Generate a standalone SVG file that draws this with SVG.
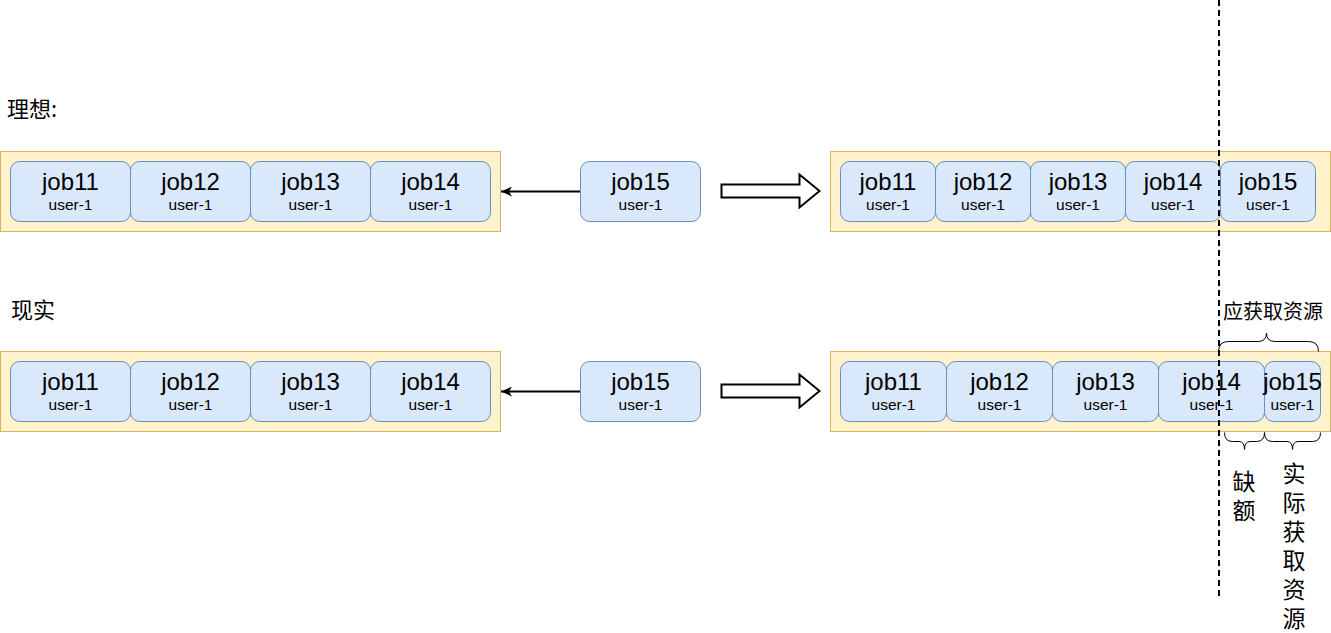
<svg xmlns="http://www.w3.org/2000/svg" width="1331" height="633" viewBox="0 0 1331 633">
<defs>
<style>
.cont{fill:#fff2cc;stroke:#d6b656;stroke-width:1}
.job{fill:#dae8fc;stroke:#6c8ebf;stroke-width:1}
.t1{font-family:"Liberation Sans",Arial,sans-serif;font-size:24px;fill:#000;text-anchor:middle}
.t2{font-family:"Liberation Sans",Arial,sans-serif;font-size:15.5px;fill:#000;text-anchor:middle}
.cjk{font-family:"Noto Sans CJK SC","Liberation Sans",sans-serif;fill:#000}
.line{fill:none;stroke:#000;stroke-width:2}
.brace{fill:none;stroke:#000;stroke-width:1}
</style>
<marker id="ah" markerWidth="12" markerHeight="10" refX="11" refY="5" orient="auto" markerUnits="userSpaceOnUse">
<path d="M0,0 L11,5 L0,10 L3,5 Z" fill="#000"/>
</marker>
</defs>
<rect width="1331" height="633" fill="#fff"/>

<g id="title-ideal"><text class="cjk" x="7" y="117" font-size="22">理想:</text></g>
<g id="title-real"><text class="cjk" x="11" y="318" font-size="22">现实</text></g>

<!-- Top left -->
<g id="c-top-left"><rect class="cont" x="0.5" y="151.5" width="500" height="80"/></g>
<g id="tl-job11"><rect class="job" x="10.5" y="161.5" width="120" height="60" rx="9"/><text class="t1" x="70.5" y="190">job11</text><text class="t2" x="70.5" y="210">user-1</text></g>
<g id="tl-job12"><rect class="job" x="130.5" y="161.5" width="120" height="60" rx="9"/><text class="t1" x="190.5" y="190">job12</text><text class="t2" x="190.5" y="210">user-1</text></g>
<g id="tl-job13"><rect class="job" x="250.5" y="161.5" width="120" height="60" rx="9"/><text class="t1" x="310.5" y="190">job13</text><text class="t2" x="310.5" y="210">user-1</text></g>
<g id="tl-job14"><rect class="job" x="370.5" y="161.5" width="120" height="60" rx="9"/><text class="t1" x="430.5" y="190">job14</text><text class="t2" x="430.5" y="210">user-1</text></g>
<g id="tm-job15"><rect class="job" x="580.5" y="161.5" width="120" height="60" rx="9"/><text class="t1" x="640.5" y="190">job15</text><text class="t2" x="640.5" y="210">user-1</text></g>

<!-- Top right -->
<g id="c-top-right"><rect class="cont" x="830.5" y="151.5" width="500" height="80"/></g>
<g id="tr-job11"><rect class="job" x="840.5" y="161.5" width="95" height="60" rx="9"/><text class="t1" x="888" y="190">job11</text><text class="t2" x="888" y="210">user-1</text></g>
<g id="tr-job12"><rect class="job" x="935.5" y="161.5" width="95" height="60" rx="9"/><text class="t1" x="983" y="190">job12</text><text class="t2" x="983" y="210">user-1</text></g>
<g id="tr-job13"><rect class="job" x="1030.5" y="161.5" width="95" height="60" rx="9"/><text class="t1" x="1078" y="190">job13</text><text class="t2" x="1078" y="210">user-1</text></g>
<g id="tr-job14"><rect class="job" x="1125.5" y="161.5" width="95" height="60" rx="9"/><text class="t1" x="1173" y="190">job14</text><text class="t2" x="1173" y="210">user-1</text></g>
<g id="tr-job15"><rect class="job" x="1220.5" y="161.5" width="95" height="60" rx="9"/><text class="t1" x="1268" y="190">job15</text><text class="t2" x="1268" y="210">user-1</text></g>

<!-- Bottom left -->
<g id="c-bot-left"><rect class="cont" x="0.5" y="351.5" width="500" height="80"/></g>
<g id="bl-job11"><rect class="job" x="10.5" y="361.5" width="120" height="60" rx="9"/><text class="t1" x="70.5" y="390">job11</text><text class="t2" x="70.5" y="410">user-1</text></g>
<g id="bl-job12"><rect class="job" x="130.5" y="361.5" width="120" height="60" rx="9"/><text class="t1" x="190.5" y="390">job12</text><text class="t2" x="190.5" y="410">user-1</text></g>
<g id="bl-job13"><rect class="job" x="250.5" y="361.5" width="120" height="60" rx="9"/><text class="t1" x="310.5" y="390">job13</text><text class="t2" x="310.5" y="410">user-1</text></g>
<g id="bl-job14"><rect class="job" x="370.5" y="361.5" width="120" height="60" rx="9"/><text class="t1" x="430.5" y="390">job14</text><text class="t2" x="430.5" y="410">user-1</text></g>
<g id="bm-job15"><rect class="job" x="580.5" y="361.5" width="120" height="60" rx="9"/><text class="t1" x="640.5" y="390">job15</text><text class="t2" x="640.5" y="410">user-1</text></g>

<!-- Bottom right -->
<g id="c-bot-right"><rect class="cont" x="830.5" y="351.5" width="500" height="80"/></g>
<g id="br-job11"><rect class="job" x="840.5" y="361.5" width="106" height="60" rx="9"/><text class="t1" x="893.5" y="390">job11</text><text class="t2" x="893.5" y="410">user-1</text></g>
<g id="br-job12"><rect class="job" x="946.5" y="361.5" width="106" height="60" rx="9"/><text class="t1" x="999.5" y="390">job12</text><text class="t2" x="999.5" y="410">user-1</text></g>
<g id="br-job13"><rect class="job" x="1052.5" y="361.5" width="106" height="60" rx="9"/><text class="t1" x="1105.5" y="390">job13</text><text class="t2" x="1105.5" y="410">user-1</text></g>
<g id="br-job14"><rect class="job" x="1158.5" y="361.5" width="106" height="60" rx="9"/><text class="t1" x="1211.5" y="390">job14</text><text class="t2" x="1211.5" y="410">user-1</text></g>
<g id="br-job15"><rect class="job" x="1264.5" y="361.5" width="56" height="60" rx="9"/><text class="t1" x="1292.5" y="390">job15</text><text class="t2" x="1292.5" y="410">user-1</text></g>

<!-- connectors -->
<g id="connectors">
<line x1="580" y1="191.5" x2="501" y2="191.5" stroke="#000" stroke-width="2" marker-end="url(#ah)"/>
<line x1="580" y1="391.5" x2="501" y2="391.5" stroke="#000" stroke-width="2" marker-end="url(#ah)"/>
<path d="M721.5,184.5 L799.5,184.5 L799.5,174.5 L819.5,191 L799.5,207.5 L799.5,197.5 L721.5,197.5 Z" fill="#fff" stroke="#000" stroke-width="2" stroke-linejoin="miter"/>
<path d="M721.5,384.5 L799.5,384.5 L799.5,374.5 L819.5,391 L799.5,407.5 L799.5,397.5 L721.5,397.5 Z" fill="#fff" stroke="#000" stroke-width="2" stroke-linejoin="miter"/>
</g>

<!-- braces -->
<g id="brace-should">
<path class="brace" d="M1218.5,351.5 Q1218.5,341.5 1228.5,341.5 L1258,341.5 Q1266.5,341.5 1266.5,333 Q1266.5,341.5 1275,341.5 L1308.5,341.5 Q1318.5,341.5 1318.5,351.5"/>
<text class="cjk" x="1273" y="319" font-size="20" text-anchor="middle">应获取资源</text>
</g>
<g id="brace-gap">
<path class="brace" d="M1224.5,432.5 Q1224.5,441.5 1232.5,441.5 L1239,441.5 Q1244.5,441.5 1244.5,449.5 Q1244.5,441.5 1250,441.5 L1256.5,441.5 Q1264.5,441.5 1264.5,432.5"/>
<text class="cjk" font-size="23" text-anchor="middle"><tspan x="1244" y="490">缺</tspan><tspan x="1244" y="519">额</tspan></text>
</g>
<g id="brace-actual">
<path class="brace" d="M1264.5,432.5 Q1264.5,441.5 1272.5,441.5 L1287,441.5 Q1292.5,441.5 1292.5,449.5 Q1292.5,441.5 1298,441.5 L1312.5,441.5 Q1320.5,441.5 1320.5,432.5"/>
<text class="cjk" font-size="23" text-anchor="middle"><tspan x="1294" y="482">实</tspan><tspan x="1294" y="511">际</tspan><tspan x="1294" y="540">获</tspan><tspan x="1294" y="569">取</tspan><tspan x="1294" y="598">资</tspan><tspan x="1294" y="627">源</tspan></text>
</g>

<g id="divider"><line class="line" x1="1219" y1="0" x2="1219" y2="596" stroke-dasharray="6,4"/></g>
</svg>
